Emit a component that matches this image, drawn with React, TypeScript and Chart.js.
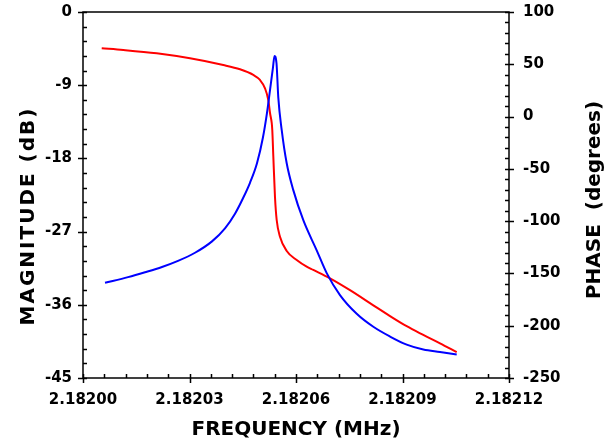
import React, { useEffect, useRef } from "react";
import { Chart, registerables } from "chart.js";

Chart.register(...registerables);

// Magnitude (blue, left axis)
const magFreq = [
  2.1820062, 2.18201268, 2.18201747, 2.18202225, 2.18202676, 2.18203155, 2.18203634,
  2.18204, 2.18204282, 2.18204507, 2.18204704, 2.18204901, 2.1820507, 2.18205183,
  2.18205268, 2.18205352, 2.18205394, 2.18205451, 2.18205501, 2.18205597, 2.18205738,
  2.18205924, 2.18206206, 2.18206583, 2.18206865, 2.18207239, 2.1820771, 2.18208178,
  2.18208648, 2.18209118, 2.18209586, 2.18210056, 2.18210527,
];
const magDb = [
  -33.3, -32.6, -32.0, -31.35, -30.6, -29.6, -28.2,
  -26.6, -24.8, -22.9, -21.0, -18.6, -15.4, -12.4,
  -9.6, -6.8, -5.4, -6.3, -10.5, -14.5, -18.6,
  -21.9, -25.6, -29.3, -32.1, -34.8, -37.1, -38.7,
  -39.9, -40.9, -41.5, -41.8, -42.1,
];

// Phase (red, right axis)
const phaseFreq = [
  2.18200527, 2.18201135, 2.18202076, 2.18203014, 2.18203952, 2.18204423, 2.18204797,
  2.18204986, 2.18205127, 2.1820522, 2.18205268, 2.18205316, 2.18205332, 2.18205361,
  2.18205408, 2.18205456, 2.18205549, 2.18205738, 2.1820602, 2.18206301, 2.18206487,
  2.18206958, 2.18207521, 2.18208178, 2.18208648, 2.18209118, 2.18209586, 2.18210056,
  2.18210527,
];
const phaseDeg = [
  65.3, 63.7, 60.5, 55.7, 49.3, 45.2, 39.8,
  35.0, 27.0, 15.8, 3.4, -6.1, -12.8, -38.0,
  -76.9, -98.9, -114.9, -128.5, -137.2, -143.6, -146.7,
  -154.7, -166.0, -180.5, -190.8, -200.5, -208.8, -216.8,
  -225.3,
];

const xTicks = [2.182, 2.18203, 2.18206, 2.18209, 2.18212];
const magTicks = [0, -9, -18, -27, -36, -45];
const phaseTicks = [100, 50, 0, -50, -100, -150, -200, -250];

const xTitle = "FREQUENCY (MHz)";
const magTitle = "MAGNITUDE (dB)";
const phaseTitle = "PHASE  (degrees)";

const MINOR_DIVS = 5;
const FONT_FAMILY = "'DejaVu Sans', Verdana, sans-serif";

// draw text centred at (0,0) along the current x direction with extra spacing between letters
function spacedText(ctx: CanvasRenderingContext2D, text: string, spacing: number) {
  const chars = Array.from(text);
  const widths = chars.map((c) => ctx.measureText(c).width);
  const total = widths.reduce((s, w) => s + w, 0) + spacing * (chars.length - 1);
  let x = -total / 2;
  ctx.textAlign = "left";
  chars.forEach((c, i) => {
    ctx.fillText(c, x, 0);
    x += widths[i] + spacing;
  });
}

const framePlugin = {
  id: "frame",
  afterDraw(chart: any) {
    const { ctx, chartArea: a, scales } = chart;
    ctx.save();
    ctx.strokeStyle = "#000";
    ctx.lineWidth = 1.5;
    ctx.strokeRect(a.left, a.top, a.right - a.left, a.bottom - a.top);

    const minorVals = (ticks: number[]) => {
      const out: number[] = [];
      for (let i = 0; i < ticks.length - 1; i++) {
        const step = (ticks[i + 1] - ticks[i]) / MINOR_DIVS;
        for (let k = 1; k < MINOR_DIVS; k++) out.push(ticks[i] + step * k);
      }
      return out;
    };

    ctx.beginPath();
    const sx = scales.x;
    xTicks.forEach((v) => {
      const p = Math.round(sx.getPixelForValue(v)) + 0.5;
      ctx.moveTo(p, a.bottom - 4);
      ctx.lineTo(p, a.bottom + 5);
    });
    minorVals(xTicks).forEach((v) => {
      const p = Math.round(sx.getPixelForValue(v)) + 0.5;
      ctx.moveTo(p, a.bottom - 4);
      ctx.lineTo(p, a.bottom);
    });
    const sy = scales.y;
    magTicks.forEach((v) => {
      const p = Math.round(sy.getPixelForValue(v)) + 0.5;
      ctx.moveTo(a.left - 5, p);
      ctx.lineTo(a.left + 4, p);
    });
    minorVals(magTicks).forEach((v) => {
      const p = Math.round(sy.getPixelForValue(v)) + 0.5;
      ctx.moveTo(a.left, p);
      ctx.lineTo(a.left + 4, p);
    });
    const s2 = scales.y2;
    phaseTicks.forEach((v) => {
      const p = Math.round(s2.getPixelForValue(v)) + 0.5;
      ctx.moveTo(a.right - 4, p);
      ctx.lineTo(a.right + 5, p);
    });
    minorVals(phaseTicks).forEach((v) => {
      const p = Math.round(s2.getPixelForValue(v)) + 0.5;
      ctx.moveTo(a.right - 4, p);
      ctx.lineTo(a.right, p);
    });
    ctx.stroke();

    ctx.fillStyle = "#000";
    ctx.font = `bold 20px ${FONT_FAMILY}`;
    ctx.textBaseline = "alphabetic";
    ctx.textAlign = "center";
    ctx.fillText(xTitle, (a.left + a.right) / 2, a.bottom + 57);

    const cy = (a.top + a.bottom) / 2;
    ctx.save();
    ctx.translate(34, cy + 22);
    ctx.rotate(-Math.PI / 2);
    spacedText(ctx, magTitle, 2);
    ctx.restore();

    ctx.save();
    ctx.translate(600, cy + 5);
    ctx.rotate(-Math.PI / 2);
    ctx.textAlign = "center";
    ctx.fillText(phaseTitle, 0, 0);
    ctx.restore();

    ctx.restore();
  },
};

export default function App() {
  const ref = useRef<HTMLCanvasElement | null>(null);

  useEffect(() => {
    if (!ref.current) return;
    const tickFont = { family: FONT_FAMILY, size: 15, weight: "bold" as const };
    const chart = new Chart(ref.current, {
      type: "line",
      data: {
        datasets: [
          {
            label: "Magnitude",
            data: magFreq.map((f, i) => ({ x: f, y: magDb[i] })),
            borderColor: "#0000ff",
            borderWidth: 2,
            pointRadius: 0,
            yAxisID: "y",
            cubicInterpolationMode: "monotone",
            fill: false,
          },
          {
            label: "Phase",
            data: phaseFreq.map((f, i) => ({ x: f, y: phaseDeg[i] })),
            borderColor: "#ff0000",
            borderWidth: 2,
            pointRadius: 0,
            yAxisID: "y2",
            cubicInterpolationMode: "monotone",
            fill: false,
          },
        ],
      },
      options: {
        animation: false,
        responsive: false,
        devicePixelRatio: 1,
        layout: { padding: { top: 12, left: 0, right: 0, bottom: 0 } },
        plugins: { legend: { display: false }, tooltip: { enabled: false } },
        scales: {
          x: {
            type: "linear",
            min: xTicks[0],
            max: xTicks[xTicks.length - 1],
            afterBuildTicks: (s: any) => {
              s.ticks = xTicks.map((v) => ({ value: v }));
            },
            afterFit: (s: any) => {
              s.height = 64;
            },
            ticks: {
              callback: (v: any) => Number(v).toFixed(5),
              padding: 0,
              font: tickFont,
              color: "#000",
              maxRotation: 0,
              autoSkip: false,
            },
            grid: { display: false, drawTicks: true, tickLength: 13 },
            border: { display: false },
          },
          y: {
            type: "linear",
            position: "left",
            min: magTicks[magTicks.length - 1],
            max: magTicks[0],
            afterBuildTicks: (s: any) => {
              s.ticks = magTicks.map((v) => ({ value: v }));
            },
            afterFit: (s: any) => {
              s.width = 83;
            },
            ticks: {
              callback: (v: any) => String(v),
              padding: 0,
              font: tickFont,
              color: "#000",
              autoSkip: false,
            },
            grid: { display: false, drawTicks: true, tickLength: 11 },
            border: { display: false },
          },
          y2: {
            type: "linear",
            position: "right",
            min: phaseTicks[phaseTicks.length - 1],
            max: phaseTicks[0],
            afterBuildTicks: (s: any) => {
              s.ticks = phaseTicks.map((v) => ({ value: v }));
            },
            afterFit: (s: any) => {
              s.width = 95;
            },
            ticks: {
              callback: (v: any) => String(v),
              padding: 0,
              font: tickFont,
              color: "#000",
              autoSkip: false,
            },
            grid: { display: false, drawTicks: true, tickLength: 14 },
            border: { display: false },
          },
        },
      },
      plugins: [framePlugin],
    } as any);
    return () => chart.destroy();
  }, []);

  return (
    <div style={{ position: "fixed", left: 0, top: 0, width: 604, height: 442, background: "#fff" }}>
      <canvas ref={ref} width={604} height={442} style={{ display: "block" }} />
    </div>
  );
}
